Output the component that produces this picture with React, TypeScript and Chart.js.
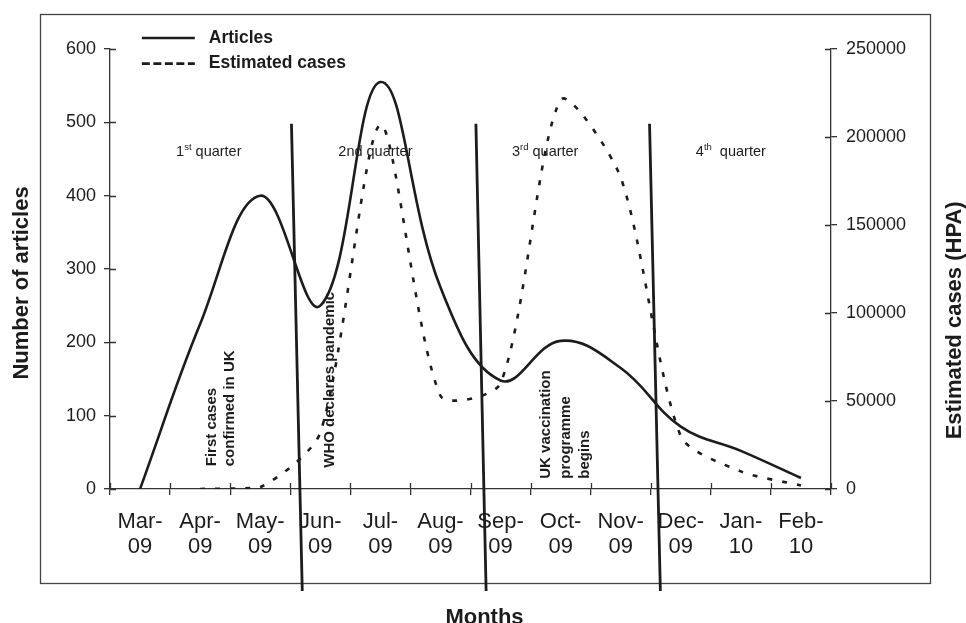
import React, { useEffect, useRef } from 'react';
import { Chart, registerables } from 'chart.js';

Chart.register(...registerables);

// ---------- data ----------
const monthLabels: string[][] = [
  ['Mar-', '09'], ['Apr-', '09'], ['May-', '09'], ['Jun-', '09'], ['Jul-', '09'], ['Aug-', '09'],
  ['Sep-', '09'], ['Oct-', '09'], ['Nov-', '09'], ['Dec-', '09'], ['Jan-', '10'], ['Feb-', '10'],
];
const articles: number[] = [0, 225, 400, 250, 555, 275, 148, 202, 165, 85, 52, 15];
const estimatedCases: (number | null)[] = [null, 0, 1000, 32000, 207000, 53000, 60000, 221000, 177000, 30000, 10000, 2000];

const articlesAxis = { min: 0, max: 600, step: 100 };
const casesAxis = { min: 0, max: 250000, step: 50000 };

// quarter boundaries (month index units, article units)
const boundaryTopX: number[] = [2.52, 5.59, 8.48];
const boundaryBottomX: number[] = [2.7, 5.76, 8.66];
const boundaryTopY = 498;
const boundaryBottomY = -139;

// quarter labels
const quarterNum: string[] = ['1', '2nd quarter', '3', '4'];
const quarterSup: string[] = ['st', '', 'rd', 'th'];
const quarterRest: string[] = [' quarter', '', ' quarter', '  quarter'];
const quarterX: number[] = [0.6, 3.3, 6.19, 9.25];
const quarterY = 460;

// event annotations (vertical text)
const eventLines: string[][] = [
  ['First cases', 'confirmed in UK'],
  ['WHO declares pandemic'],
  ['UK vaccination', 'programme', 'begins'],
];
const eventX: number[] = [1.2, 3.16, 6.76];
const eventY: number[] = [31, 29, 14];
const eventGap: number[] = [18, 19, 19.5];

const FONT = "'Liberation Sans', Arial, Helvetica, sans-serif";
const INK = '#1c1c1c';

const decorPlugin = {
  id: 'decor',
  beforeDraw(chart: any) {
    const ctx = chart.ctx;
    ctx.save();
    ctx.strokeStyle = '#444';
    ctx.lineWidth = 1.3;
    ctx.strokeRect(40.5, 14.5, 890, 569);
    ctx.restore();
  },
  afterDraw(chart: any) {
    const ctx = chart.ctx;
    const xq = chart.scales.xq;
    const y = chart.scales.y;
    const y1 = chart.scales.y1;
    const x = chart.scales.x;
    ctx.save();
    // inner halves of tick marks (ticks cross the axes)
    ctx.strokeStyle = '#333';
    ctx.lineWidth = 1.3;
    ctx.beginPath();
    y.ticks.forEach((_t: any, i: number) => {
      const p = Math.round(y.getPixelForTick(i)) + 0.5;
      ctx.moveTo(y.right, p);
      ctx.lineTo(y.right + 6, p);
    });
    y1.ticks.forEach((_t: any, i: number) => {
      const p = Math.round(y1.getPixelForTick(i)) + 0.5;
      ctx.moveTo(y1.left - 6, p);
      ctx.lineTo(y1.left, p);
    });
    for (let i = 0; i <= monthLabels.length; i++) {
      const p = Math.round(xq.getPixelForValue(i - 0.5)) + 0.5;
      ctx.moveTo(p, x.top - 6);
      ctx.lineTo(p, x.top);
    }
    ctx.stroke();

    // legend
    const ds = chart.data.datasets;
    const lx0 = xq.getPixelForValue(0.03);
    const lx1 = lx0 + 53;
    const ly = [y.getPixelForValue(615), y.getPixelForValue(580)];
    [0, 1].forEach((k) => {
      ctx.beginPath();
      ctx.strokeStyle = INK;
      ctx.lineWidth = 2.6;
      ctx.setLineDash(k === 0 ? [] : [8, 3.5]);
      ctx.moveTo(lx0, ly[k]);
      ctx.lineTo(lx1, ly[k]);
      ctx.stroke();
      ctx.setLineDash([]);
      ctx.fillStyle = INK;
      ctx.font = `bold 17.5px ${FONT}`;
      ctx.textAlign = 'left';
      ctx.textBaseline = 'middle';
      ctx.fillText(ds[k].label, lx0 + 67, ly[k]);
    });

    // quarter labels
    ctx.fillStyle = INK;
    ctx.textBaseline = 'middle';
    ctx.textAlign = 'left';
    const qy = y.getPixelForValue(quarterY);
    quarterNum.forEach((n, i) => {
      let px = xq.getPixelForValue(quarterX[i]);
      ctx.font = `14.5px ${FONT}`;
      ctx.fillText(n, px, qy);
      px += ctx.measureText(n).width;
      if (quarterSup[i]) {
        ctx.font = `9.5px ${FONT}`;
        ctx.fillText(quarterSup[i], px, qy - 4.5);
        px += ctx.measureText(quarterSup[i]).width;
      }
      if (quarterRest[i]) {
        ctx.font = `14.5px ${FONT}`;
        ctx.fillText(quarterRest[i], px, qy);
      }
    });

    // event annotations
    ctx.font = `bold 15px ${FONT}`;
    eventLines.forEach((lines, i) => {
      const px = xq.getPixelForValue(eventX[i]);
      const py = y.getPixelForValue(eventY[i]);
      ctx.save();
      ctx.translate(px, py);
      ctx.rotate(-Math.PI / 2);
      ctx.textAlign = 'left';
      ctx.textBaseline = 'middle';
      lines.forEach((t, j) => ctx.fillText(t, 0, j * eventGap[i]));
      ctx.restore();
    });

    // axis titles
    ctx.font = `bold 22px ${FONT}`;
    ctx.textAlign = 'center';
    ctx.textBaseline = 'middle';
    ctx.save();
    ctx.translate(chart.chartArea.left - 88, y.getPixelForValue(281));
    ctx.rotate(-Math.PI / 2);
    ctx.fillText('Number of articles', 0, 0);
    ctx.restore();
    ctx.save();
    ctx.translate(chart.chartArea.right + 124, y.getPixelForValue(230));
    ctx.rotate(-Math.PI / 2);
    ctx.fillText('Estimated cases (HPA)', 0, 0);
    ctx.restore();
    ctx.textBaseline = 'alphabetic';
    ctx.fillText('Months', chart.width / 2 + 1.5, 624);
    ctx.restore();
  },
};

export default function App() {
  const ref = useRef<HTMLCanvasElement | null>(null);

  useEffect(() => {
    if (!ref.current) return;
    const boundaryDatasets = boundaryTopX.map((tx, i) => ({
      type: 'line' as const,
      label: `boundary${i}`,
      data: [
        { x: tx, y: boundaryTopY },
        { x: boundaryBottomX[i], y: boundaryBottomY },
      ],
      xAxisID: 'xq',
      yAxisID: 'y',
      borderColor: INK,
      borderWidth: 2.8,
      pointRadius: 0,
      tension: 0,
      clip: false as any,
      fill: false,
    }));

    const chart = new Chart(ref.current, {
      type: 'line',
      data: {
        labels: monthLabels as any,
        datasets: [
          {
            label: 'Articles',
            data: articles,
            xAxisID: 'x',
            yAxisID: 'y',
            borderColor: INK,
            borderWidth: 2.6,
            pointRadius: 0,
            tension: 0.4,
            fill: false,
          },
          {
            label: 'Estimated cases',
            data: estimatedCases,
            xAxisID: 'x',
            yAxisID: 'y1',
            borderColor: INK,
            borderWidth: 2.6,
            borderDash: [5, 10],
            pointRadius: 0,
            tension: 0.25,
            fill: false,
          },
          ...(boundaryDatasets as any[]),
        ],
      },
      options: {
        responsive: false,
        animation: false,
        events: [],
        layout: { padding: { top: 49, left: 0, right: 0, bottom: 0 } },
        plugins: {
          legend: { display: false },
          tooltip: { enabled: false },
          title: { display: false },
        },
        scales: {
          x: {
            type: 'category',
            position: 'bottom',
            offset: true,
            afterFit: (s: any) => { s.height = 134; },
            grid: { display: true, drawOnChartArea: false, offset: true, drawTicks: true, tickLength: 6, color: '#333', lineWidth: 1.3 },
            border: { display: true, color: '#333', width: 1.3 },
            ticks: {
              color: INK,
              font: { family: FONT, size: 22, lineHeight: '25px' as any },
              padding: 14,
              maxRotation: 0,
              autoSkip: false,
            },
          },
          xq: {
            type: 'linear',
            axis: 'x',
            position: 'bottom',
            display: false,
            min: -0.5,
            max: monthLabels.length - 0.5,
          },
          y: {
            type: 'linear',
            position: 'left',
            min: articlesAxis.min,
            max: articlesAxis.max,
            afterFit: (s: any) => { s.width = 110; },
            grid: { display: true, drawOnChartArea: false, drawTicks: true, tickLength: 6, color: '#333', lineWidth: 1.3 },
            border: { display: true, color: '#333', width: 1.3 },
            ticks: {
              stepSize: articlesAxis.step,
              color: INK,
              font: { family: FONT, size: 18 },
              padding: 8,
            },
          },
          y1: {
            type: 'linear',
            position: 'right',
            min: casesAxis.min,
            max: casesAxis.max,
            afterFit: (s: any) => { s.width = 135; },
            grid: { display: true, drawOnChartArea: false, drawTicks: true, tickLength: 6, color: '#333', lineWidth: 1.3 },
            border: { display: true, color: '#333', width: 1.3 },
            ticks: {
              stepSize: casesAxis.step,
              color: INK,
              font: { family: FONT, size: 18 },
              padding: 9,
              callback: (v: any) => String(v),
            },
          },
        },
      } as any,
      plugins: [decorPlugin],
    });
    return () => chart.destroy();
  }, []);

  return (
    <div style={{ position: 'absolute', left: 0, top: 0, width: 966, height: 623, background: '#fff' }}>
      <canvas ref={ref} width={966} height={623} style={{ display: 'block' }} />
    </div>
  );
}
